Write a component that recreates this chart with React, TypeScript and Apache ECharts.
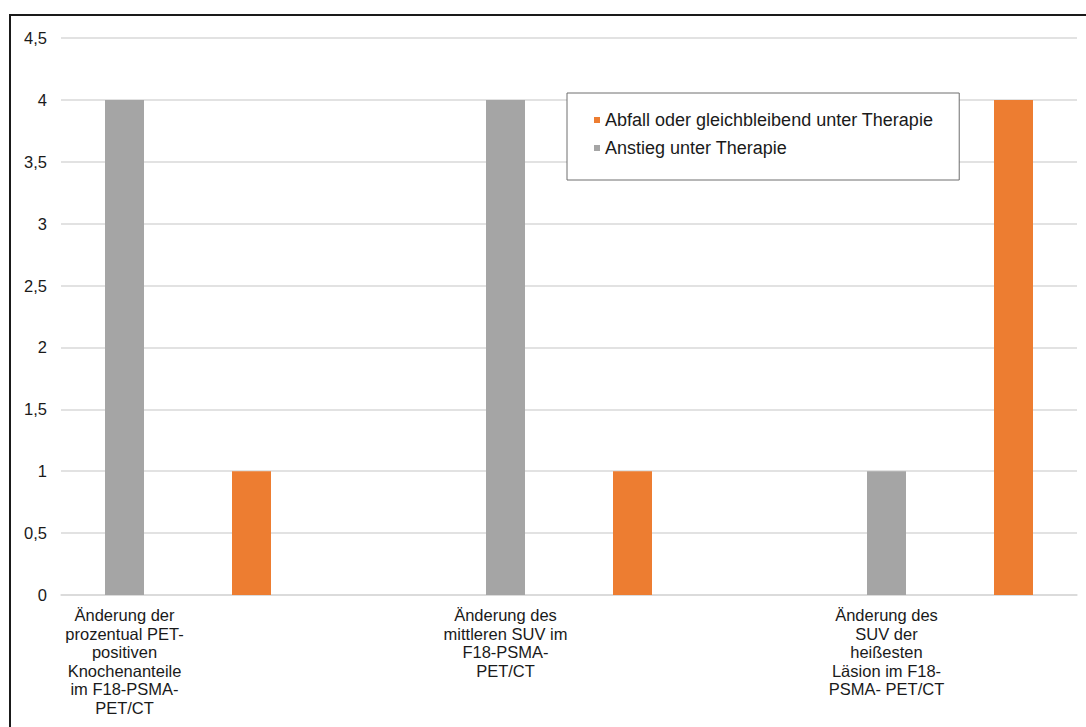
import React, { useEffect, useRef } from "react";
import * as echarts from "echarts";

// Eight category slots; only three carry a label, the rest hold single bars.
const categories: string[] = [
  "Änderung der\nprozentual PET-\npositiven\nKnochenanteile\nim F18-PSMA-\nPET/CT",
  "",
  "",
  "Änderung des\nmittleren SUV im\nF18-PSMA-\nPET/CT",
  "",
  "",
  "Änderung des\nSUV der\nheißesten\nLäsion im F18-\nPSMA- PET/CT",
  "",
];

const seriesNames: string[] = [
  "Abfall oder gleichbleibend unter Therapie",
  "Anstieg unter Therapie",
];

const decreaseValues: (number | null)[] = [null, 1, null, null, 1, null, null, 4];
const increaseValues: (number | null)[] = [4, null, null, 4, null, null, 1, null];

const yTicks = { min: 0, max: 4.5, interval: 0.5 };

const ORANGE = "#ED7D31";
const GRAY = "#A5A5A5";
const FONT = "'Liberation Sans', Arial, Helvetica, sans-serif";

export default function App() {
  const ref = useRef<HTMLDivElement>(null);

  useEffect(() => {
    if (!ref.current) return;
    const chart = echarts.init(ref.current, undefined, { renderer: "svg" });
    chart.setOption({
      animation: false,
      backgroundColor: "#ffffff",
      textStyle: { fontFamily: FONT },
      grid: { left: 61, right: 9, top: 38, bottom: 132, containLabel: false },
      graphic: [
        {
          type: "polyline",
          shape: { points: [[10, 727], [10, 15], [1086, 15]] },
          style: { stroke: "#1a1a1a", lineWidth: 2, fill: "none" },
          silent: true,
        },
      ],
      legend: {
        data: seriesNames,
        orient: "vertical",
        left: 567,
        top: 93,
        padding: [18, 26, 23, 27],
        itemGap: 10,
        itemWidth: 6,
        itemHeight: 6,
        icon: "rect",
        borderColor: "#6e6e6e",
        borderWidth: 1,
        backgroundColor: "#ffffff",
        textStyle: { fontSize: 18, lineHeight: 18, color: "#1a1a1a", fontFamily: FONT },
      },
      xAxis: {
        type: "category",
        data: categories,
        axisLine: { show: true, lineStyle: { color: "#d9d9d9", width: 1.5 } },
        axisTick: { show: false },
        axisLabel: {
          interval: 0,
          margin: 11,
          fontSize: 16.5,
          lineHeight: 18.5,
          color: "#1a1a1a",
          fontFamily: FONT,
          align: "center",
        },
      },
      yAxis: {
        type: "value",
        min: yTicks.min,
        max: yTicks.max,
        interval: yTicks.interval,
        axisLine: { show: false },
        axisTick: { show: false },
        splitLine: { lineStyle: { color: "#d9d9d9", width: 1.5 } },
        axisLabel: {
          margin: 14,
          fontSize: 16.5,
          color: "#1a1a1a",
          fontFamily: FONT,
          formatter: (v: number) => String(v).replace(".", ","),
        },
      },
      series: [
        {
          name: seriesNames[1],
          type: "bar",
          data: increaseValues,
          barWidth: 39,
          barGap: "-100%",
          itemStyle: { color: GRAY },
        },
        {
          name: seriesNames[0],
          type: "bar",
          data: decreaseValues,
          barWidth: 39,
          barGap: "-100%",
          itemStyle: { color: ORANGE },
        },
      ],
    });
    return () => chart.dispose();
  }, []);

  return (
    <div
      ref={ref}
      style={{ position: "absolute", left: 0, top: 0, width: 1086, height: 727 }}
    />
  );
}
